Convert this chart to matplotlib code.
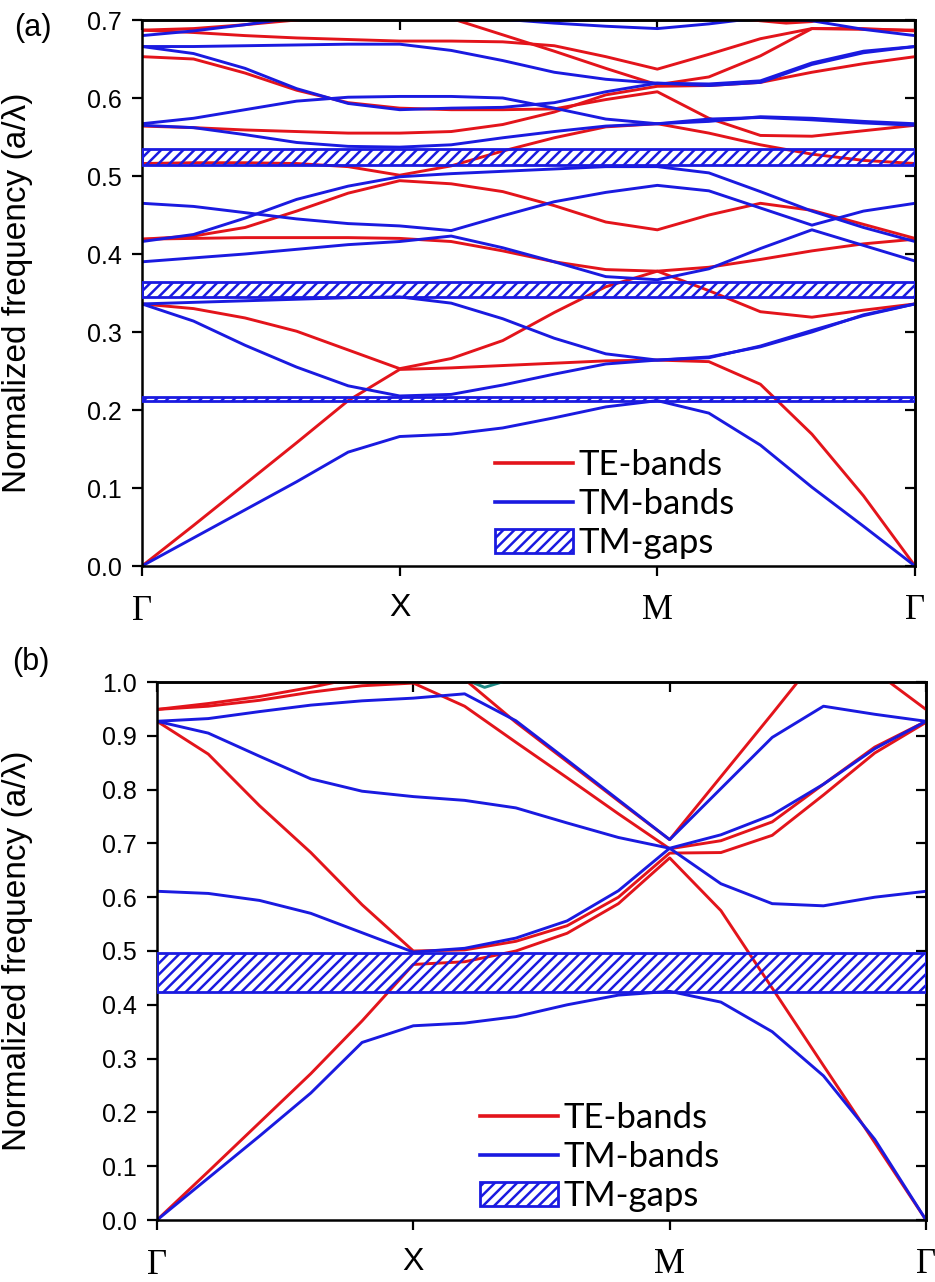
# Photonic band diagrams (TE / TM) with TM gaps, two panels

import matplotlib
matplotlib.use('Agg')
import matplotlib.pyplot as plt
import matplotlib.patches as mpatches
from matplotlib.lines import Line2D
from matplotlib.ticker import FormatStrFormatter
import numpy as np

RED = '#e3141b'
BLUE = '#1a1ae0'
TEAL = '#1f8a86'

# path Gamma -> X -> M -> Gamma, each leg of unit length
k_grid = [0.0, 0.2, 0.4, 0.6, 0.8, 1.0, 1.2, 1.4, 1.6, 1.8, 2.0, 2.2, 2.4, 2.6, 2.8, 3.0]
k_ticks = [0, 1, 2, 3]
k_labels = ['Γ', 'X', 'M', 'Γ']

# ---- panel (a) ----
te_a1 = [0.000, 0.052, 0.105, 0.158, 0.212, 0.252, 0.254, 0.257, 0.260, 0.263, 0.264, 0.262, 0.233, 0.169, 0.090, 0.000]
te_a2 = [0.336, 0.330, 0.318, 0.301, 0.277, 0.253, 0.266, 0.289, 0.325, 0.358, 0.378, 0.353, 0.326, 0.319, 0.328, 0.336]
te_a3 = [0.419, 0.420, 0.421, 0.421, 0.421, 0.420, 0.416, 0.404, 0.390, 0.380, 0.378, 0.383, 0.393, 0.404, 0.413, 0.419]
te_a4 = [0.419, 0.423, 0.434, 0.455, 0.478, 0.494, 0.490, 0.480, 0.462, 0.441, 0.431, 0.450, 0.465, 0.456, 0.438, 0.420]
te_a5 = [0.516, 0.517, 0.517, 0.516, 0.512, 0.501, 0.513, 0.532, 0.549, 0.563, 0.567, 0.555, 0.540, 0.528, 0.520, 0.516]
te_a6 = [0.564, 0.562, 0.559, 0.557, 0.555, 0.555, 0.557, 0.566, 0.582, 0.604, 0.615, 0.616, 0.620, 0.633, 0.644, 0.653]
te_a7 = [0.653, 0.650, 0.632, 0.610, 0.594, 0.587, 0.585, 0.585, 0.586, 0.598, 0.608, 0.574, 0.552, 0.551, 0.558, 0.565]
te_a8 = [0.687, 0.684, 0.680, 0.677, 0.675, 0.673, 0.673, 0.672, 0.667, 0.653, 0.637, 0.656, 0.676, 0.689, 0.689, 0.686]
te_a9 = [0.687, 0.689, 0.694, 0.700, 0.706, 0.710, 0.702, 0.681, 0.660, 0.638, 0.617, 0.627, 0.654, 0.689, 0.688, 0.687]
# short red piece that only dips into the frame near the top
k_a_dip = [2.30, 2.40, 2.50, 2.60, 2.66]
te_a_dip = [0.703, 0.699, 0.696, 0.698, 0.703]

tm_a1 = [0.000, 0.036, 0.072, 0.108, 0.146, 0.166, 0.169, 0.177, 0.190, 0.204, 0.212, 0.196, 0.155, 0.101, 0.051, 0.000]
tm_a2 = [0.336, 0.314, 0.283, 0.255, 0.231, 0.218, 0.220, 0.232, 0.246, 0.259, 0.264, 0.267, 0.282, 0.302, 0.321, 0.336]
tm_a3 = [0.336, 0.338, 0.340, 0.342, 0.344, 0.345, 0.337, 0.317, 0.292, 0.272, 0.264, 0.268, 0.281, 0.300, 0.322, 0.336]
tm_a4 = [0.390, 0.395, 0.400, 0.406, 0.412, 0.416, 0.423, 0.408, 0.390, 0.371, 0.367, 0.381, 0.407, 0.431, 0.411, 0.391]
tm_a5 = [0.416, 0.425, 0.446, 0.470, 0.487, 0.499, 0.503, 0.506, 0.509, 0.512, 0.512, 0.504, 0.480, 0.455, 0.434, 0.416]
tm_a6 = [0.465, 0.461, 0.453, 0.445, 0.439, 0.436, 0.430, 0.449, 0.467, 0.479, 0.488, 0.481, 0.459, 0.437, 0.455, 0.465]
tm_a7 = [0.565, 0.562, 0.553, 0.543, 0.538, 0.537, 0.540, 0.549, 0.557, 0.564, 0.567, 0.573, 0.575, 0.572, 0.568, 0.565]
tm_a8 = [0.567, 0.574, 0.585, 0.596, 0.601, 0.602, 0.602, 0.600, 0.587, 0.573, 0.567, 0.570, 0.576, 0.574, 0.570, 0.567]
tm_a9 = [0.666, 0.657, 0.638, 0.612, 0.593, 0.585, 0.587, 0.588, 0.594, 0.608, 0.619, 0.618, 0.622, 0.645, 0.660, 0.666]
tm_a10 = [0.666, 0.666, 0.667, 0.668, 0.669, 0.669, 0.661, 0.648, 0.633, 0.624, 0.619, 0.616, 0.620, 0.643, 0.658, 0.666]
tm_a11 = [0.680, 0.686, 0.694, 0.703, 0.710, 0.715, 0.708, 0.701, 0.696, 0.692, 0.689, 0.695, 0.703, 0.699, 0.688, 0.680]

gaps_a = [(0.2115, 0.2165), (0.3453, 0.3645), (0.5141, 0.5346)]

# ---- panel (b) ----
te_b1 = [0.000, 0.090, 0.181, 0.272, 0.370, 0.475, 0.480, 0.500, 0.533, 0.588, 0.673, 0.575, 0.431, 0.287, 0.144, 0.000]
te_b2 = [0.927, 0.866, 0.770, 0.683, 0.586, 0.500, 0.502, 0.518, 0.547, 0.600, 0.682, 0.683, 0.715, 0.790, 0.868, 0.925]
te_b3 = [0.949, 0.955, 0.966, 0.981, 0.993, 0.998, 0.955, 0.888, 0.822, 0.755, 0.690, 0.705, 0.740, 0.810, 0.879, 0.927]
te_b4 = [0.949, 0.960, 0.973, 0.990, 1.010, 1.030, 1.005, 0.925, 0.852, 0.779, 0.707, 0.824, 0.941, 1.060, 1.020, 0.949]

tm_b1 = [0.000, 0.078, 0.156, 0.236, 0.330, 0.361, 0.366, 0.378, 0.400, 0.418, 0.425, 0.405, 0.350, 0.268, 0.150, 0.000]
tm_b2 = [0.611, 0.607, 0.594, 0.570, 0.534, 0.498, 0.505, 0.524, 0.556, 0.612, 0.691, 0.625, 0.588, 0.584, 0.600, 0.611]
tm_b3 = [0.927, 0.905, 0.862, 0.820, 0.797, 0.787, 0.780, 0.766, 0.738, 0.711, 0.691, 0.716, 0.753, 0.810, 0.876, 0.927]
tm_b4 = [0.927, 0.932, 0.945, 0.957, 0.965, 0.970, 0.978, 0.928, 0.855, 0.781, 0.707, 0.802, 0.897, 0.955, 0.940, 0.927]

# small pieces of a third (teal) series touching the top edge
k_teal_1 = [0.00, 0.04]
teal_1 = [0.997, 1.010]
k_teal_2 = [1.15, 1.278, 1.40]
teal_2 = [1.015, 0.990, 1.008]

gaps_b = [(0.424, 0.496)]

plt.rcParams['font.family'] = 'Liberation Sans'
plt.rcParams['hatch.linewidth'] = 1.8

fig = plt.figure(figsize=(9.35, 12.82), dpi=100)


def pixel_axes(left, top, right, bottom):
    return fig.add_axes([left / 935, 1 - bottom / 1282, (right - left) / 935, (bottom - top) / 1282])


def draw_panel(ax, te_bands, tm_bands, gaps, ymax):
    for f in te_bands:
        ax.plot(k_grid, f, color=RED, lw=2.1, zorder=2)
    for f in tm_bands:
        ax.plot(k_grid, f, color=BLUE, lw=2.1, zorder=2.1)
    for lo, hi in gaps:
        ax.axhspan(lo, hi, facecolor='none', edgecolor=BLUE, hatch='///', lw=2.0, zorder=3)

    ax.set_xlim(0, 3)
    ax.set_ylim(0, ymax)
    ax.set_xticks(k_ticks)
    ax.set_xticklabels([])
    ax.set_yticks(np.arange(0, ymax + 0.001, 0.1))
    ax.yaxis.set_major_formatter(FormatStrFormatter('%.1f'))
    ax.tick_params(axis='y', direction='out', length=7.5, width=1.6, labelsize=18, pad=7)
    ax.tick_params(axis='x', direction='out', length=7.5, width=1.6)
    for sp in ax.spines.values():
        sp.set_linewidth(1.8)

    # mirrored ticks on top/right point inwards
    top = ax.secondary_xaxis('top')
    top.set_xticks(k_ticks)
    top.tick_params(direction='in', length=7.5, width=1.6, labeltop=False)
    top.spines['top'].set_linewidth(1.8)
    right = ax.secondary_yaxis('right')
    right.set_yticks(np.arange(0, ymax + 0.001, 0.1))
    right.tick_params(direction='in', length=7.5, width=1.6, labelright=False)
    right.spines['right'].set_linewidth(1.8)

    # symmetry point labels: Greek/M in a serif face, X in sans
    fams = ['Liberation Serif', 'Liberation Sans', 'Liberation Serif', 'Liberation Serif']
    sizes = [25, 23, 25, 25]
    drops = [-39, -36, -38, -38]
    for k, lbl, fam, sz, dy in zip(k_ticks, k_labels, fams, sizes, drops):
        ax.annotate(lbl, xy=(k, 0), xycoords=ax.get_xaxis_transform(),
                    xytext=(0, dy), textcoords='offset points',
                    ha='center', va='baseline', fontfamily=fam, fontsize=sz,
                    annotation_clip=False)


def add_legend(ax, x_px, y_px):
    handles = [Line2D([], [], color=RED, lw=2.6),
               Line2D([], [], color=BLUE, lw=2.6),
               mpatches.Patch(facecolor='white', edgecolor=BLUE, hatch='///', lw=2.0)]
    ax.legend(handles, ['TE-bands', 'TM-bands', 'TM-gaps'], loc='center left',
              bbox_to_anchor=(x_px / 935, 1 - y_px / 1282), bbox_transform=fig.transFigure,
              frameon=False, prop={'family': 'Lato', 'size': 25},
              handlelength=2.25, handletextpad=0.15, labelspacing=0.2,
              borderpad=0, borderaxespad=0)


ax_a = pixel_axes(142, 20, 915, 566)
draw_panel(ax_a, [te_a1, te_a2, te_a3, te_a4, te_a5, te_a6, te_a7, te_a8, te_a9],
           [tm_a1, tm_a2, tm_a3, tm_a4, tm_a5, tm_a6, tm_a7, tm_a8, tm_a9, tm_a10, tm_a11],
           gaps_a, 0.7)
ax_a.plot(k_a_dip, te_a_dip, color=RED, lw=2.1, zorder=2)
add_legend(ax_a, 495, 504)

ax_b = pixel_axes(157, 682, 926, 1220)
draw_panel(ax_b, [te_b1, te_b2, te_b3, te_b4], [tm_b1, tm_b2, tm_b3, tm_b4], gaps_b, 1.0)
ax_b.plot(k_teal_1, teal_1, color=TEAL, lw=2.1, zorder=2)
ax_b.plot(k_teal_2, teal_2, color=TEAL, lw=2.1, zorder=2)
add_legend(ax_b, 480, 1157)

# y labels and panel letters
ylab = 'Normalized frequency (a/λ)'
fig.text(18 / 935, 1 - 293 / 1282, ylab, rotation=90, ha='center', va='center', fontsize=24)
fig.text(18 / 935, 1 - 951 / 1282, ylab, rotation=90, ha='center', va='center', fontsize=24)
fig.text(33 / 935, 1 - 28 / 1282, '(a)', ha='center', va='center', fontsize=22)
fig.text(31 / 935, 1 - 662 / 1282, '(b)', ha='center', va='center', fontsize=22)

fig.savefig('out.png', dpi=100)
